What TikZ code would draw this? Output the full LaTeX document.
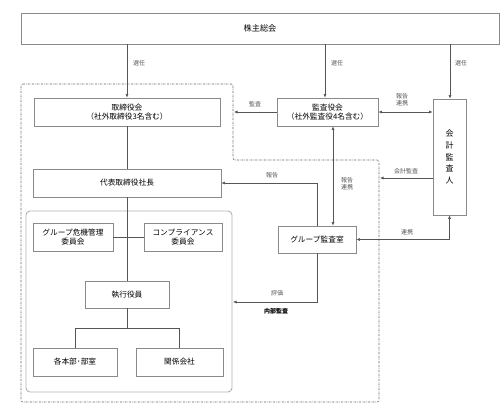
\documentclass[tikz,border=0pt]{standalone}
\usepackage{fontspec}
\setmainfont{Noto Sans CJK JP}
\usetikzlibrary{arrows.meta}
\definecolor{boxline}{HTML}{8A8A8A}
\definecolor{conline}{HTML}{555555}
\definecolor{lbl}{HTML}{555555}
\tikzset{
  box/.style={draw=boxline, line width=0.7pt, inner sep=0pt, align=center, font=\fontsize{7.7}{9.2}\selectfont, text=black},
  con/.style={draw=conline, line width=0.6pt},
  arr/.style={con, -{Latex[length=3.5pt,width=3pt]}},
  darr/.style={con, {Latex[length=3.5pt,width=3pt]}-{Latex[length=3.5pt,width=3pt]}},
  lab/.style={font=\fontsize{6}{7}\selectfont, text=lbl, inner sep=0pt, align=center},
  region/.style={draw=gray!80!black, line width=0.6pt, dash pattern=on 2pt off 1pt on 0.5pt off 1pt, rounded corners=2pt},
  inner/.style={draw=gray!60, line width=0.9pt, rounded corners=4pt}
}
\begin{document}
\begin{tikzpicture}[x=1pt,y=-1pt]
\useasboundingbox (0,0) rectangle (500,411);
% regions
\draw[region] (21,84) -- (233,84) -- (233,160) -- (379,160) -- (379,402) -- (21,402) -- cycle;
\draw[inner] (26,211) rectangle (232,392);
% nodes
\node[box, minimum width=478pt, minimum height=31pt, font=\fontsize{8.2}{9.5}\selectfont] (top) at (260,28.5) {株主総会};
\node[box, minimum width=186pt, minimum height=28pt] (tori) at (127,112) {取締役会\\（社外取締役3名含む）};
\node[box, minimum width=101pt, minimum height=28pt] (kansa) at (327.5,112) {監査役会\\（社外監査役4名含む）};
\node[box, minimum width=33pt, minimum height=116pt, font=\fontsize{8}{11.7}\selectfont] (kaikei) at (449.5,157) {会\\計\\監\\査\\人};
\node[box, minimum width=188pt, minimum height=28pt] (daihyo) at (127,183) {代表取締役社長};
\node[box, minimum width=78pt, minimum height=27pt] (audit) at (317,239.5) {グループ監査室};
\node[box, minimum width=80pt, minimum height=28pt] (kiki) at (73,237) {グループ危機管理\\委員会};
\node[box, minimum width=78pt, minimum height=28pt] (comp) at (183,237) {コンプライアンス\\委員会};
\node[box, minimum width=84pt, minimum height=27pt] (shikko) at (127,294.5) {執行役員};
\node[box, minimum width=84pt, minimum height=28pt] (honbu) at (75,362) {各本部･部室};
\node[box, minimum width=87pt, minimum height=28pt] (kankei) at (179.5,362) {関係会社};
% helper coordinates
\coordinate (x2) at (325,0);
\coordinate (x3) at (450,0);
\coordinate (v1) at (333,0);
\coordinate (kansaEnd) at (234,112);
\coordinate (kaikeiEnd) at (380,178);
\coordinate (kaikeiY) at (0,178);
\coordinate (hyokaEnd) at (233,302);
% election arrows
\draw[arr] (top.south -| tori.north) -- (tori.north);
\draw[arr] (top.south -| x2) -- (kansa.north -| x2);
\draw[arr] (top.south -| x3) -- (kaikei.north -| x3);
\node[lab] (s1) at (139,63) {選任};
\node[lab] (s2) at (337,63) {選任};
\node[lab] (s3) at (461,63) {選任};
% management line
\draw[con] (tori.south) -- (daihyo.north);
\draw[con] (daihyo.south) -- (shikko.north);
\draw[con] (kiki.east) -- (comp.west);
\draw[con] (shikko.south) -- ++(0,20) coordinate (tj);
\draw[con] (honbu.north) |- (tj) -| (kankei.north);
% audit arrows
\draw[arr] (kansa.west) -- (kansaEnd);
\node[lab] (l1) at (255,104) {監査};
\draw[darr] (kansa.east) -- (kansa.east -| kaikei.west);
\node[lab] (l2) at (402,100) {報告\\連携};
\draw[darr] (kansa.south -| v1) -- (audit.north -| v1);
\node[lab] (l3) at (347,184) {報告\\連携};
\draw[arr] (audit.north) |- (daihyo.east);
\node[lab] (l4) at (272,175) {報告};
\draw[arr] (kaikei.west |- kaikeiY) -- (kaikeiEnd);
\node[lab] (l5) at (406,171) {会計監査};
\draw[darr] (audit.east) -| (kaikei.south);
\node[lab] (l6) at (407,232) {連携};
\draw[arr] (audit.south) |- (hyokaEnd);
\node[lab] (l7) at (277,293) {評価};
\node[lab, text=black, font=\fontsize{6}{7}\selectfont\bfseries] (l8) at (276,311) {内部監査};
\end{tikzpicture}
\end{document}
